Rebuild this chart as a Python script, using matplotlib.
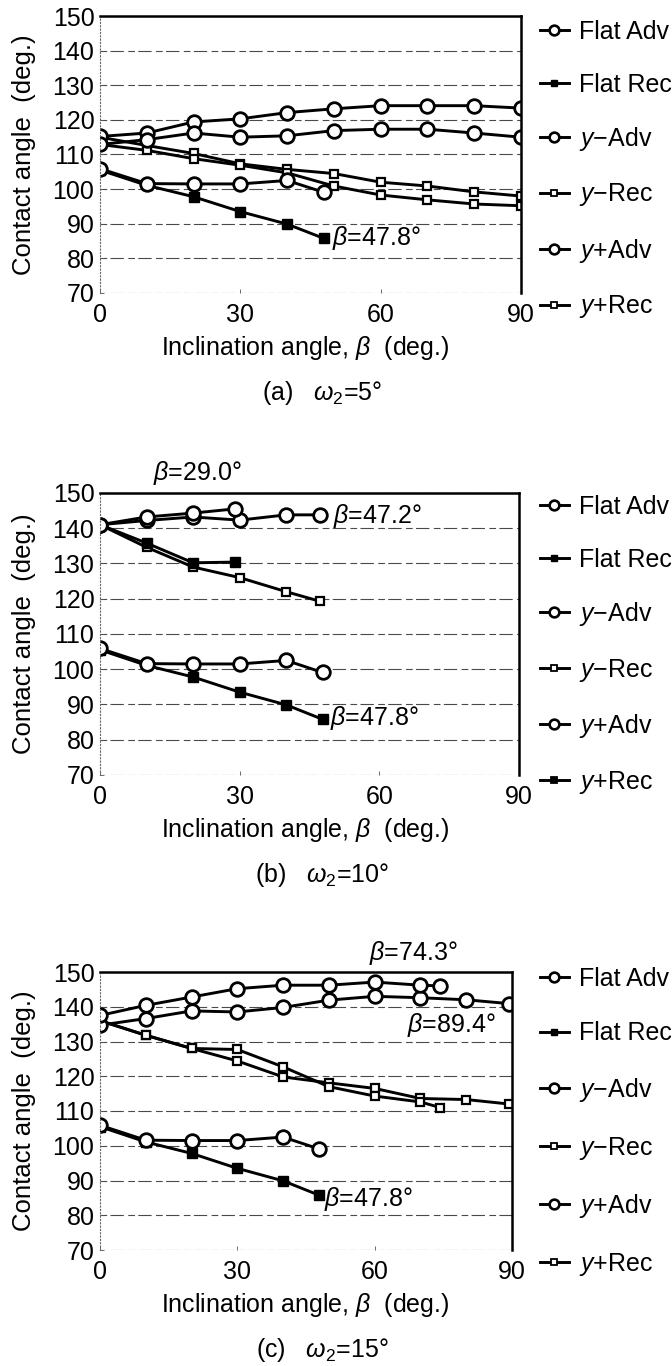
import matplotlib
matplotlib.use("Agg")
import matplotlib.pyplot as plt
from matplotlib.lines import Line2D

plt.rcParams['font.family'] = ['Liberation Sans', 'DejaVu Sans']
plt.rcParams['mathtext.fontset'] = 'custom'
plt.rcParams['mathtext.rm'] = 'Liberation Sans'
plt.rcParams['mathtext.it'] = 'Liberation Sans:italic'
plt.rcParams['mathtext.bf'] = 'Liberation Sans:bold'

# ---------------- data ----------------
# flat surface (same in every panel)
flat_beta = [0, 10, 20, 30, 40, 47.8]
flat_adv = [105.9, 101.6, 101.5, 101.5, 102.5, 99.1]
flat_rec = [105.5, 101.1, 97.8, 93.5, 89.9, 85.8]

# (a) omega2 = 5 deg
a_beta = [0, 10, 20, 30, 40, 50, 60, 70, 80, 90]
a_ym_adv = [115.2, 116.2, 119.4, 120.3, 122.1, 123.2, 124.1, 124.1, 124.1, 123.4]
a_ym_rec = [115.0, 112.6, 110.3, 107.3, 105.7, 104.5, 102.0, 100.9, 99.2, 98.0]
a_yp_adv = [112.9, 114.3, 116.2, 115.0, 115.4, 116.9, 117.3, 117.3, 116.2, 115.0]
a_yp_rec = [112.9, 111.2, 108.8, 106.9, 104.7, 100.9, 98.3, 96.9, 95.7, 95.2]

# (b) omega2 = 10 deg
b_ym_beta = [0, 10, 20, 30, 40, 47.2]
b_ym_adv = [141.0, 142.2, 143.2, 142.3, 143.8, 143.8]
b_ym_rec = [141.0, 134.6, 129.0, 126.0, 122.0, 119.3]
b_yp_beta = [0, 10, 20, 29.0]
b_yp_adv = [141.0, 143.2, 144.3, 145.5]
b_yp_rec = [141.0, 135.8, 130.2, 130.4]

# (c) omega2 = 15 deg
c_ym_beta = [0, 10, 20, 30, 40, 50, 60, 70, 80, 89.4]
c_ym_adv = [134.7, 136.6, 138.8, 138.5, 139.8, 141.9, 143.0, 142.6, 142.0, 140.9]
c_ym_rec = [136.0, 131.8, 128.0, 124.4, 119.8, 118.1, 116.5, 113.6, 113.3, 112.0]
c_yp_beta = [0, 10, 20, 30, 40, 50, 60, 70, 74.3]
c_yp_adv = [137.5, 140.4, 142.8, 145.2, 146.2, 146.2, 147.1, 146.2, 146.0]
c_yp_rec = [136.0, 131.8, 128.0, 127.7, 122.7, 117.0, 114.3, 112.6, 111.0]

x_ticks = [0, 30, 60, 90]
y_ticks = [70, 80, 90, 100, 110, 120, 130, 140, 150]
series_labels = ['Flat Adv', 'Flat Rec', '$y$\u2212Adv', '$y$\u2212Rec', '$y$+Adv', '$y$+Rec']
captions = ['(a)   $\\omega_2$=5\u00b0', '(b)   $\\omega_2$=10\u00b0', '(c)   $\\omega_2$=15\u00b0']

# ---------------- figure ----------------
W, H, DPI = 672, 1366, 100
fig = plt.figure(figsize=(W / DPI, H / DPI), dpi=DPI)
FS = 18
LW = 2.1

circ = dict(marker='o', ms=9.8, mfc='white', mec='black', mew=2.0, color='black', lw=LW)
sq_open = dict(marker='s', ms=5.5, mfc='white', mec='black', mew=1.6, color='black', lw=LW)
sq_fill = dict(marker='s', ms=6.5, mfc='black', mec='black', mew=1.0, color='black', lw=LW)

# pixel boxes of the three plot areas: left, top, right, bottom
boxes = [(100, 16, 521, 293), (100, 493, 519, 775), (100, 972, 512, 1250)]
legend_first = [33, 508, 980]
legend_spacing = [1.14, 1.14, 1.22]


def make_axes(box):
    l, t, r, b = box
    ax = fig.add_axes([l / W, 1 - b / H, (r - l) / W, (b - t) / H])
    ax.set_xlim(0, 90)
    ax.set_ylim(70, 150)
    ax.set_xticks(x_ticks)
    ax.set_yticks(y_ticks)
    ax.yaxis.grid(True, color='#4a4a4a', lw=0.8, ls=(0, (6, 3, 12, 4)))
    ax.set_axisbelow(True)
    ax.spines['bottom'].set_visible(False)
    ax.spines['left'].set_color('#666666')
    ax.spines['left'].set_linewidth(0.8)
    ax.spines['left'].set_linestyle((0, (1, 2)))
    for s in ('top', 'right'):
        ax.spines[s].set_color('black')
        ax.spines[s].set_linewidth(1.8)
    ax.tick_params(axis='both', direction='in', length=3, width=0.6,
                   color='#555555', labelsize=FS)
    ax.tick_params(axis='x', pad=7)
    ax.tick_params(axis='y', pad=4)
    return ax


def decorate(box, idx, yprec_filled):
    l, t, r, b = box
    fig.text(24 / W, 1 - ((t + b) / 2) / H, 'Contact angle  (deg.)', rotation=90,
             ha='center', va='center', fontsize=18.5)
    fig.text(305 / W, 1 - (b + 55) / H, 'Inclination angle, $\\beta$  (deg.)',
             ha='center', va='center', fontsize=FS)
    fig.text(322 / W, 1 - (b + 100) / H, captions[idx], ha='center', va='center',
             fontsize=FS)
    handles = [
        Line2D([], [], marker='o', ms=7, mfc='white', mec='black', mew=1.9, color='black', lw=LW),
        Line2D([], [], marker='s', ms=5, mfc='black', mec='black', color='black', lw=LW),
        Line2D([], [], marker='o', ms=7, mfc='white', mec='black', mew=1.9, color='black', lw=LW),
        Line2D([], [], marker='s', ms=4.5, mfc='white', mec='black', mew=1.3, color='black', lw=LW),
        Line2D([], [], marker='o', ms=7, mfc='white', mec='black', mew=1.9, color='black', lw=LW),
        Line2D([], [], marker='s', ms=4.5, mfc='black' if yprec_filled else 'white',
               mec='black', mew=1.3, color='black', lw=LW),
    ]
    fig.legend(handles, series_labels, loc='upper left',
               bbox_to_anchor=(540 / W, 1 - (legend_first[idx] - 13) / H),
               frameon=False, fontsize=FS, handlelength=1.15, handletextpad=0.4,
               labelspacing=legend_spacing[idx], borderpad=0, borderaxespad=0)


def beta_text(ax, x, y, s, ha='left'):
    ax.text(x, y, '$\\beta$=' + s + '\u00b0', ha=ha, va='center', fontsize=FS,
            clip_on=False)


# (a)
ax = make_axes(boxes[0])
ax.plot(a_beta, a_ym_rec, **sq_open)
ax.plot(a_beta, a_yp_rec, **sq_open)
ax.plot(flat_beta, flat_rec, **sq_fill)
ax.plot(a_beta, a_ym_adv, **circ)
ax.plot(a_beta, a_yp_adv, **circ)
ax.plot(flat_beta, flat_adv, **circ)
beta_text(ax, 49.5, 86.0, '47.8')
decorate(boxes[0], 0, False)

# (b)
ax = make_axes(boxes[1])
ax.plot(b_ym_beta, b_ym_rec, **sq_open)
ax.plot(b_yp_beta, b_yp_rec, **sq_fill)
ax.plot(flat_beta, flat_rec, **sq_fill)
ax.plot(b_ym_beta, b_ym_adv, **circ)
ax.plot(b_yp_beta, b_yp_adv, **circ)
ax.plot(flat_beta, flat_adv, **circ)
beta_text(ax, 21, 155.7, '29.0', ha='center')
beta_text(ax, 50.0, 143.6, '47.2')
beta_text(ax, 49.5, 86.3, '47.8')
decorate(boxes[1], 1, True)

# (c)
ax = make_axes(boxes[2])
ax.plot(c_ym_beta, c_ym_rec, **sq_open)
ax.plot(c_yp_beta, c_yp_rec, **sq_open)
ax.plot(flat_beta, flat_rec, **sq_fill)
ax.plot(c_ym_beta, c_ym_adv, **circ)
ax.plot(c_yp_beta, c_yp_adv, **circ)
ax.plot(flat_beta, flat_adv, **circ)
beta_text(ax, 68.5, 155.5, '74.3', ha='center')
beta_text(ax, 86.5, 134.7, '89.4', ha='right')
beta_text(ax, 49.0, 84.8, '47.8')
decorate(boxes[2], 2, False)

fig.savefig('out.png', dpi=DPI)
